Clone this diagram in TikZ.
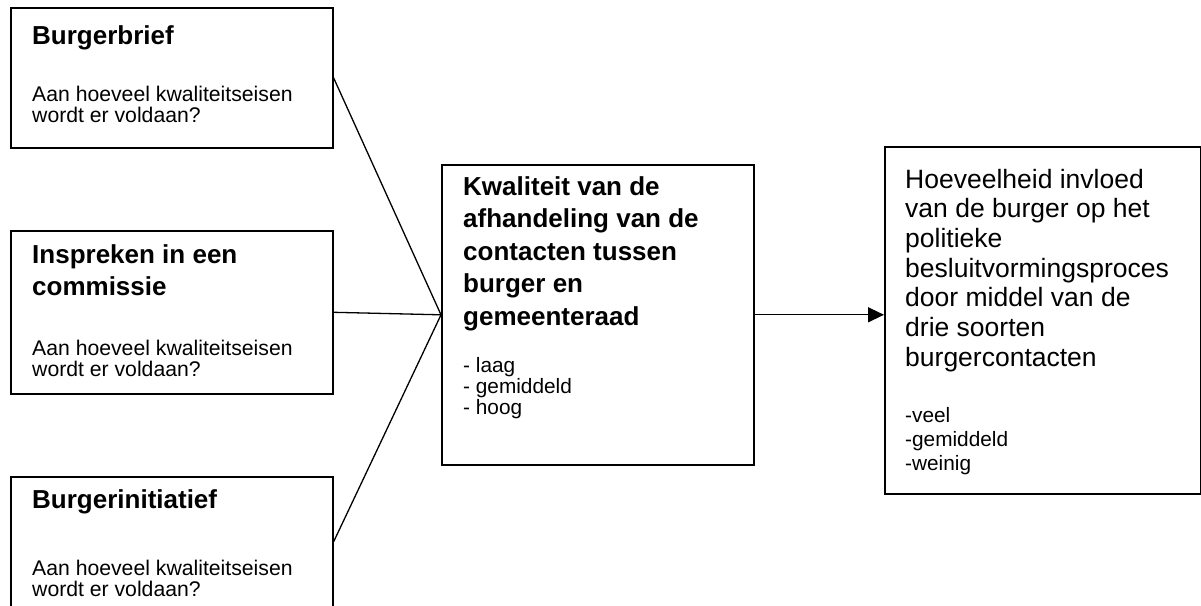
\documentclass[tikz,border=0pt]{standalone}
\usepackage{fontspec}
\setmainfont{Liberation Sans}
\usetikzlibrary{arrows.meta}
\newcommand{\tl}[1]{\begin{tabular}[t]{@{}l@{}}#1\end{tabular}}
\begin{document}
\begin{tikzpicture}[x=1pt,y=-1pt,
  box/.style={draw,line width=1.6pt,inner sep=0pt,anchor=north west},
  ttl/.style={font=\fontsize{26}{32.5}\selectfont\bfseries,anchor=base west,inner sep=0pt},
  bodytxt/.style={font=\fontsize{21.2}{20.5}\selectfont,anchor=base west,inner sep=0pt},
  bigtxt/.style={font=\fontsize{26.5}{29.7}\selectfont,anchor=base west,inner sep=0pt},
  listtxt/.style={font=\fontsize{20.8}{24}\selectfont,anchor=base west,inner sep=0pt},
  conn/.style={line width=1.3pt}]
\useasboundingbox (0,0) rectangle (1201,605);
\clip (0,0) rectangle (1201,605);
% boxes
\node[box,minimum width=322pt,minimum height=140pt] (b1) at (10,7) {};
\node[box,minimum width=322pt,minimum height=163pt] (b2) at (10,230) {};
\node[box,minimum width=322pt,minimum height=130pt] (b3) at (10,476) {};
\node[box,minimum width=312pt,minimum height=300pt] (mid) at (441,164) {};
\node[box,minimum width=316pt,minimum height=347pt] (rb) at (884,146) {};
% texts
\node[ttl] (t1) at (32,44) {Burgerbrief};
\node[bodytxt] (q1) at (32,101) {\tl{Aan hoeveel kwaliteitseisen\\wordt er voldaan?}};
\node[ttl] (t2) at (32,263) {\tl{Inspreken in een\\commissie}};
\node[bodytxt] (q2) at (32,355) {\tl{Aan hoeveel kwaliteitseisen\\wordt er voldaan?}};
\node[ttl] (t3) at (32,508) {Burgerinitiatief};
\node[bodytxt] (q3) at (32,575) {\tl{Aan hoeveel kwaliteitseisen\\wordt er voldaan?}};
\node[ttl] (tm) at (463,195) {\tl{Kwaliteit van de\\afhandeling van de\\contacten tussen\\burger en\\gemeenteraad}};
\node[listtxt,font=\fontsize{20.8}{21.3}\selectfont] (lm) at (463,372) {\tl{- laag\\- gemiddeld\\- hoog}};
\node[bigtxt] (tr) at (905,188) {\tl{Hoeveelheid invloed\\van de burger op het\\politieke\\besluitvormingsproces\\door middel van de\\drie soorten\\burgercontacten}};
\node[listtxt] (lr) at (905,422) {\tl{-veel\\-gemiddeld\\-weinig}};
% connectors
\draw[conn] (b1.east) -- (mid.west);
\draw[conn] (b2.east) -- (mid.west);
\draw[conn] (b3.east) -- (mid.west);
\draw[conn,-{Triangle[length=16pt,width=15pt]}] (mid.east) -- (mid.east -| rb.west);
\end{tikzpicture}
\end{document}
